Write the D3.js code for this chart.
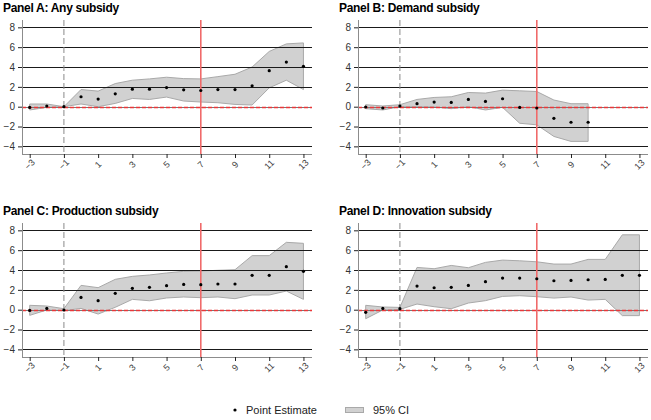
<!DOCTYPE html>
<html><head><meta charset="utf-8">
<script src="https://cdn.jsdelivr.net/npm/d3@7"></script>
<style>body{margin:0;background:#fff;} svg{display:block;font-family:"Liberation Sans",Arial,sans-serif;}</style>
</head><body><svg id="c" width="651" height="420"></svg>
<script>
const periods = [-3,-2,-1,0,1,2,3,4,5,6,7,8,9,10,11,12,13];
const xTicks = [-3,-1,1,3,5,7,9,11,13];
const yTicks = [-4,-2,0,2,4,6,8];
const titles = ["Panel A: Any subsidy","Panel B: Demand subsidy","Panel C: Production subsidy","Panel D: Innovation subsidy"];

const estA = [-0.07,0.07,0,1.0,0.77,1.3,1.77,1.77,1.93,1.7,1.63,1.73,1.73,2.1,3.63,4.5,4.07];
const upA  = [0.27,0.27,0,1.73,1.57,2.33,2.67,2.8,2.97,2.83,2.8,3.03,3.27,4.0,5.57,6.33,6.43];
const loA  = [-0.33,-0.07,0,0.27,0,0.33,0.83,0.73,0.97,0.57,0.47,0.4,0.23,0.17,1.9,2.67,1.73];

const estB = [-0.03,-0.13,0.07,0.3,0.47,0.43,0.73,0.53,0.8,-0.07,-0.13,-1.17,-1.57,-1.57];
const upB  = [0.2,0.07,0.2,0.73,0.93,1.0,1.43,1.37,1.67,1.6,1.53,0.67,0.3,0.3];
const loB  = [-0.2,-0.33,0,0,-0.03,-0.2,0,-0.33,-0.07,-1.67,-1.83,-3.0,-3.5,-3.5];

const estC = [-0.07,0.13,-0.03,1.24,0.91,1.65,2.15,2.25,2.42,2.55,2.52,2.59,2.59,3.46,3.46,4.34,3.87];
const upC  = [0.44,0.37,0.1,2.45,2.22,3.06,3.36,3.5,3.7,3.87,3.9,3.97,4.03,5.45,5.45,6.79,6.69];
const loC  = [-0.57,-0.03,-0.1,0.13,-0.44,0.24,1.04,0.9,1.18,1.28,1.21,1.28,1.11,1.48,1.48,1.88,1.04];

const estD = [-0.27,0.13,0.1,2.38,2.21,2.25,2.45,2.82,3.19,3.19,3.12,2.92,2.95,3.02,3.05,3.46,3.46];
const upD  = [0.44,0.27,0.23,4.26,4.13,4.46,4.23,4.77,5.0,4.93,4.83,4.6,4.6,5.07,5.07,7.55,7.55];
const loD  = [-0.91,-0.03,0.03,0.57,0.3,0.1,0.67,0.91,1.34,1.41,1.31,1.17,1.28,0.97,1.04,-0.6,-0.6];

const legendLabels = ["Point Estimate","95% CI"];

const panels = [
  {title:titles[0], est:estA, up:upA, lo:loA, x0:22,  top:20},
  {title:titles[1], est:estB, up:upB, lo:loB, x0:358, top:20},
  {title:titles[2], est:estC, up:upC, lo:loC, x0:22,  top:223},
  {title:titles[3], est:estD, up:upD, lo:loD, x0:358, top:223}
];

const svg = d3.select("#c");
const W = 290, H = 134;
const bandFill = "#d1d1d1", bandStroke = "#a9a9a9";

panels.forEach(p => {
  const x = d3.scaleLinear().domain([-3.45,13.5]).range([p.x0, p.x0+W]);
  const y = d3.scaleLinear().domain([-4.77,8.74]).range([p.top+H, p.top]);
  const g = svg.append("g");
  const data = p.est.map((v,i)=>({t:periods[i], e:v, u:p.up[i], l:p.lo[i]}));

  g.append("text").attr("x", p.x0-19).attr("y", p.top-8)
    .attr("font-size", 12).attr("font-weight","bold").attr("fill","#000")
    .attr("letter-spacing","-0.3").text(p.title);

  // band
  g.append("path").datum(data)
    .attr("d", d3.area().x(d=>x(d.t)).y0(d=>y(d.l)).y1(d=>y(d.u)))
    .attr("fill", bandFill).attr("stroke", bandStroke).attr("stroke-width",1);

  // gridlines
  g.selectAll(".grid").data(yTicks).enter().append("line")
    .attr("x1", p.x0).attr("x2", p.x0+W)
    .attr("y1", d=>Math.round(y(d))+0.5).attr("y2", d=>Math.round(y(d))+0.5)
    .attr("stroke", d=> d===0 ? "#777" : "#1a1a1a").attr("stroke-width", 1);

  // red dashed zero line
  g.append("line").attr("x1", p.x0).attr("x2", p.x0+W)
    .attr("y1", Math.round(y(0))+0.5).attr("y2", Math.round(y(0))+0.5)
    .attr("stroke", "#e8383a").attr("stroke-width", 1.3).attr("stroke-dasharray","4,2");

  // vertical dashed at -1
  g.append("line").attr("x1", x(-1)).attr("x2", x(-1))
    .attr("y1", p.top).attr("y2", p.top+H)
    .attr("stroke", "#8a8a8a").attr("stroke-width", 1).attr("stroke-dasharray","6,3");

  // red vertical at 7
  g.append("line").attr("x1", x(7)).attr("x2", x(7))
    .attr("y1", p.top).attr("y2", p.top+H)
    .attr("stroke", "#f06a6a").attr("stroke-width", 1.6);

  // points
  g.selectAll(".pt").data(data).enter().append("circle")
    .attr("cx", d=>x(d.t)).attr("cy", d=>y(d.e)).attr("r", 1.6).attr("fill","#000");

  // axes
  const ya = g.append("g").attr("transform", `translate(${p.x0},0)`)
    .call(d3.axisLeft(y).tickValues(yTicks).tickSize(4).tickPadding(3).tickFormat(d3.format("d")));
  ya.select(".domain").attr("stroke","#8c8c8c").attr("d", `M0.5,${p.top}V${p.top+H+0.5}`);
  ya.selectAll(".tick line").attr("stroke","#222");
  ya.selectAll(".tick text").attr("font-size",10).attr("fill","#333").attr("font-family","Liberation Sans, Arial, sans-serif");

  const xa = g.append("g").attr("transform", `translate(0,${p.top+H})`)
    .call(d3.axisBottom(x).tickValues(xTicks).tickSize(4).tickFormat(d3.format("d")));
  xa.select(".domain").attr("stroke","#8c8c8c").attr("d", `M${p.x0},0.5H${p.x0+W}`);
  xa.selectAll(".tick line").attr("stroke","#222");
  xa.selectAll(".tick text").attr("font-size",9).attr("fill","#444")
    .attr("font-family","Liberation Sans, Arial, sans-serif")
    .attr("text-anchor","middle").attr("dy",null).attr("y",null)
    .attr("transform","translate(0,11) rotate(-45)").attr("dominant-baseline","middle");
});

// legend
const lg = svg.append("g");
lg.append("circle").attr("cx",235).attr("cy",410).attr("r",1.6).attr("fill","#000");
lg.append("text").attr("x",246).attr("y",414).attr("font-size",11).attr("fill","#222").text(legendLabels[0]);
lg.append("rect").attr("x",345.5).attr("y",407.5).attr("width",18).attr("height",5)
  .attr("fill",bandFill).attr("stroke",bandStroke);
lg.append("text").attr("x",373).attr("y",414).attr("font-size",11).attr("fill","#222").text(legendLabels[1]);
</script></body></html>
